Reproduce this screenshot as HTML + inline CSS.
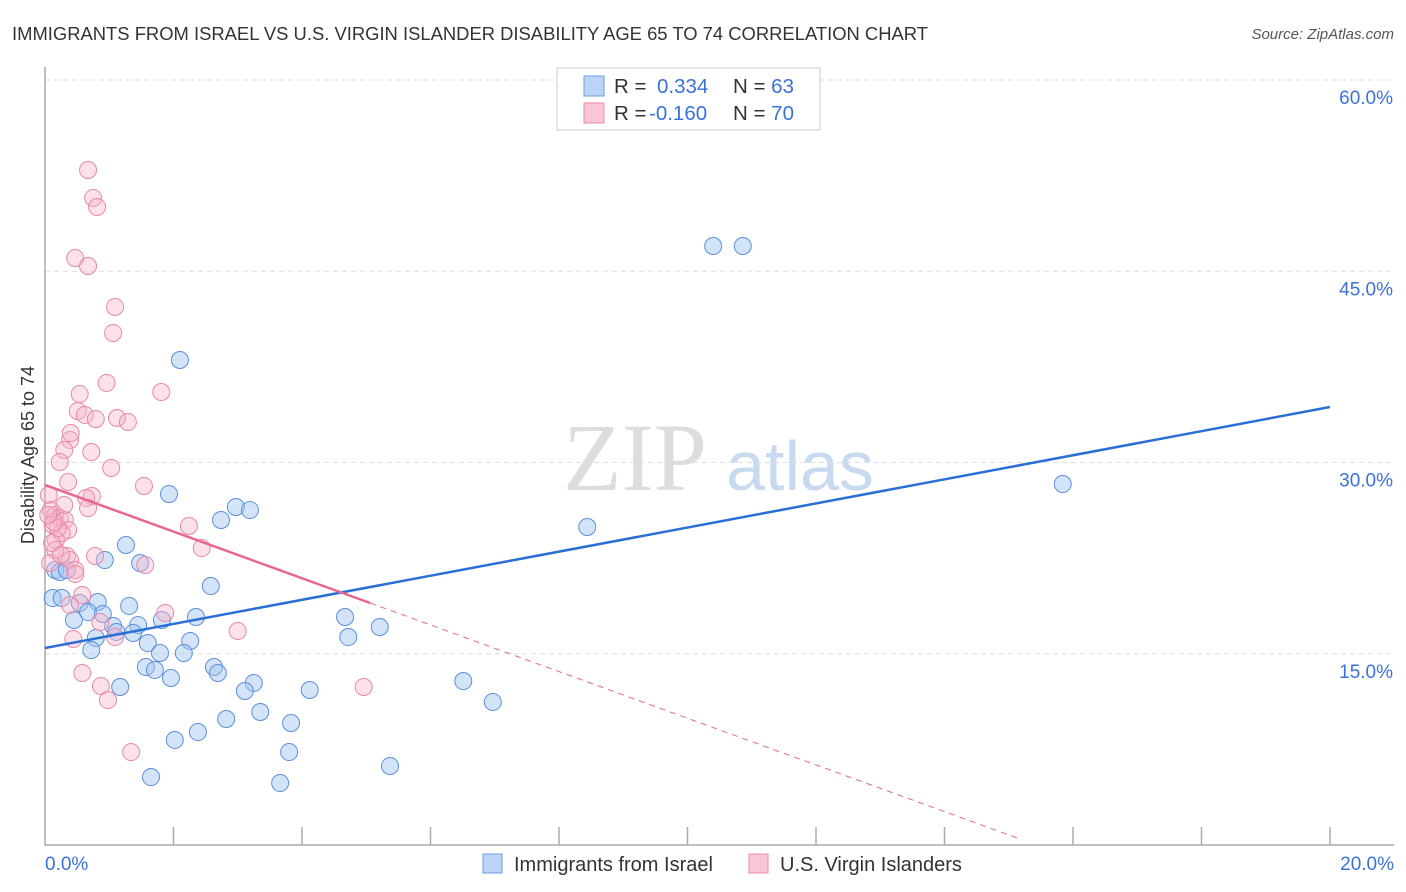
<!DOCTYPE html>
<html><head><meta charset="utf-8"><style>
body{margin:0;background:#fff;font-family:"Liberation Sans",sans-serif;}
svg{display:block}
</style></head><body>
<svg id="chart" width="1406" height="892">
<text x="12" y="40" font-size="18" fill="#333" textLength="916" lengthAdjust="spacingAndGlyphs">IMMIGRANTS FROM ISRAEL VS U.S. VIRGIN ISLANDER DISABILITY AGE 65 TO 74 CORRELATION CHART</text>
<text x="1394" y="39" font-size="15" fill="#555" font-style="italic" text-anchor="end">Source: ZipAtlas.com</text>
<g>
<text x="635" y="490" font-size="96" fill="#ddd" font-family="Liberation Serif, serif" text-anchor="middle">ZIP</text>
<text x="800" y="490" font-size="70" fill="#c8daf0" text-anchor="middle">atlas</text>
</g>
<g id="grid"></g>
<g id="axes"></g>
<g id="marks"></g>
<text transform="translate(34,455) rotate(-90)" font-size="18" fill="#333" text-anchor="middle">Disability Age 65 to 74</text>
<text x="45" y="870" font-size="19" fill="#3a72d8">0.0%</text>
<text x="1394" y="870" font-size="19" fill="#3a72d8" text-anchor="end">20.0%</text>
<g>
<rect x="557" y="68" width="263" height="62" fill="#fff" stroke="#ccc"/>
<rect x="584" y="76" width="20" height="20" fill="#bcd4f6" stroke="#6a9be0"/>
<rect x="584" y="103" width="20" height="20" fill="#f9c6d6" stroke="#ec8aa9"/>
<text x="614" y="93" font-size="20.5" fill="#333">R = <tspan fill="#3a72d8" x="657">0.334</tspan><tspan x="733">N = </tspan><tspan fill="#3a72d8">63</tspan></text>
<text x="614" y="120" font-size="20.5" fill="#333">R = <tspan fill="#3a72d8" x="649">-0.160</tspan><tspan x="733">N = </tspan><tspan fill="#3a72d8">70</tspan></text>
</g>
<g>
<rect x="483" y="854" width="19" height="19" fill="#bcd4f6" stroke="#6a9be0"/>
<text x="514" y="871" font-size="20" fill="#333">Immigrants from Israel</text>
<rect x="749" y="854" width="19" height="19" fill="#f9c6d6" stroke="#ec8aa9"/>
<text x="780" y="871" font-size="20" fill="#333">U.S. Virgin Islanders</text>
</g>
</svg>
<script>
const yTicks=[15,30,45,60];
const yTickLabels=["15.0%","30.0%","45.0%","60.0%"];
const xTicks=[0,2,4,6,8,10,12,14,16,18,20];
const blueX=[10.40,10.86,2.10,15.84,8.44,1.93,2.97,3.19,2.74,1.26,0.93,1.48,0.16,0.23,0.12,0.26,0.54,0.82,1.31,0.45,0.67,0.90,2.35,4.67,1.06,1.45,0.79,1.11,1.37,1.82,2.26,1.60,2.58,5.21,4.72,0.72,1.79,2.16,1.57,1.71,2.63,2.69,1.96,6.51,6.97,1.17,3.25,3.11,4.12,2.82,3.35,3.83,2.38,2.02,3.80,1.65,5.37,3.66,0.34];
const blueY=[46.98,46.98,38.04,28.31,24.94,27.53,26.51,26.27,25.49,23.53,22.35,22.12,21.57,21.41,19.37,19.37,18.98,19.06,18.75,17.65,18.27,18.12,17.88,17.88,17.18,17.25,16.24,16.71,16.63,17.65,16.00,15.84,20.31,17.10,16.31,15.29,15.06,15.06,13.96,13.73,13.96,13.49,13.10,12.86,11.22,12.39,12.71,12.08,12.16,9.88,10.43,9.57,8.86,8.24,7.29,5.33,6.20,4.86,21.57];
const pinkX=[0.67,0.75,0.81,0.47,0.67,1.09,1.06,0.96,1.81,0.54,0.51,0.62,0.79,1.12,1.29,0.39,0.40,0.72,0.30,0.23,1.03,1.54,0.36,0.73,0.64,0.67,0.06,0.09,0.16,0.23,0.31,0.12,0.36,0.17,0.26,2.24,2.44,0.78,0.34,0.39,1.56,0.47,0.47,0.16,0.08,1.87,0.58,0.86,1.09,0.44,3.00,0.58,0.87,0.98,4.96,1.34,0.39,0.11,0.20,0.30,0.14,0.05,0.25];
const pinkY=[52.94,50.75,50.04,46.04,45.41,42.20,40.16,36.24,35.53,35.37,34.04,33.73,33.41,33.49,33.18,31.76,32.31,30.82,30.98,30.04,29.57,28.16,28.47,27.37,27.22,26.43,27.45,26.27,25.88,25.65,25.49,25.10,24.71,23.92,24.47,25.02,23.29,22.67,22.67,22.35,21.96,21.57,21.25,23.14,22.12,18.20,19.61,17.49,16.31,16.16,16.78,13.49,12.47,11.37,12.39,7.29,18.82,23.69,24.86,26.67,25.33,25.88,22.75];
const blueTrend=[15.45,34.35];
const pinkTrend=[28.24,-1.83];
const pinkSolidEnd=5.06, pinkDashEnd=15.17;
const NS="http://www.w3.org/2000/svg";
const X=v=>45+v*64.25, Y=v=>845-v*12.75;
function mk(p,tag,a){const e=document.createElementNS(NS,tag);for(const k in a)e.setAttribute(k,a[k]);p.appendChild(e);return e;}
const grid=document.getElementById('grid'),axes=document.getElementById('axes'),marks=document.getElementById('marks');
yTicks.forEach((t,i)=>{
 const l=mk(grid,'line',{x1:45,x2:1394,y1:Y(t),y2:Y(t),stroke:'#ddd','stroke-dasharray':'5,4'});
 
 
 const tx=mk(grid,'text',{x:1393,y:Y(t)+24,'font-size':19,fill:'#3a72d8','text-anchor':'end'});
 tx.textContent=yTickLabels[i];
 
 
});
const ya=mk(axes,'line',{x1:45,x2:45,y1:67,y2:846,stroke:'#aaa','stroke-width':1.5});


const xa=mk(axes,'line',{x1:45,x2:1394,y1:845,y2:845,stroke:'#aaa','stroke-width':1.5});


xTicks.forEach(t=>{if(t===0)return;
 const l=mk(axes,'line',{x1:X(t),x2:X(t),y1:827,y2:845,stroke:'#aaa','stroke-width':1.5});
 
 
});
blueX.forEach((v,i)=>{
 const c=mk(marks,'circle',{cx:X(v),cy:Y(blueY[i]),r:8.5,fill:'rgba(160,195,240,0.45)',stroke:'#5b8fdc','stroke-width':1});
 
 
});
pinkX.forEach((v,i)=>{
 const c=mk(marks,'circle',{cx:X(v),cy:Y(pinkY[i]),r:8.5,fill:'rgba(248,180,200,0.4)',stroke:'#e889a8','stroke-width':1});
 
 
});
const bt=mk(marks,'line',{x1:X(0),y1:Y(blueTrend[0]),x2:X(20),y2:Y(blueTrend[1]),stroke:'#2a6fd6','stroke-width':2.5});


const pf=x=>pinkTrend[0]+pinkTrend[1]*x;
const pt=mk(marks,'line',{x1:X(0),y1:Y(pf(0)),x2:X(pinkSolidEnd),y2:Y(pf(pinkSolidEnd)),stroke:'#e8668f','stroke-width':2.5});


const pd=mk(marks,'line',{x1:X(pinkSolidEnd),y1:Y(pf(pinkSolidEnd)),x2:X(pinkDashEnd),y2:Y(pf(pinkDashEnd)),stroke:'#e8668f','stroke-width':1,'stroke-dasharray':'6,5'});


</script>
</body></html>
